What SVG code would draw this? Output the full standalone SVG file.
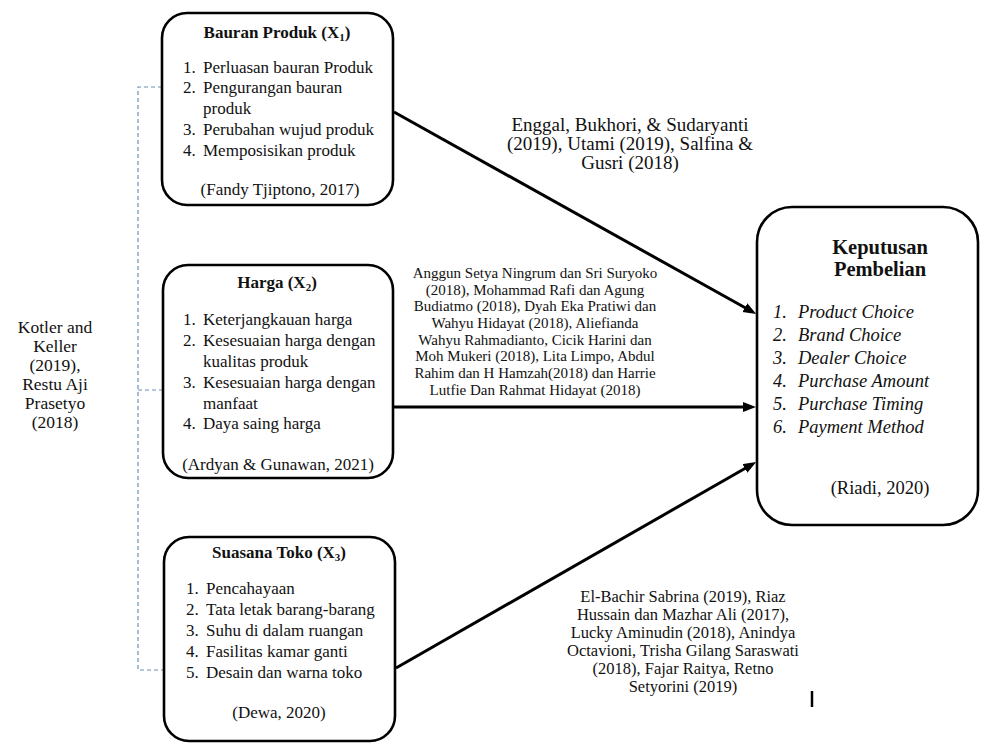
<svg xmlns="http://www.w3.org/2000/svg" width="992" height="747" viewBox="0 0 992 747">
<defs>
<style>
text{font-family:"Liberation Serif","Times New Roman",serif;fill:#111}
.box{fill:#fff;stroke:#000;stroke-width:2.6}
.t{font-size:17px;font-weight:bold;text-anchor:middle}
.i{font-size:17px}
.c{font-size:17px;text-anchor:middle}
.kt{font-size:20.5px;font-weight:bold;text-anchor:middle}
.ki{font-size:18.5px;font-style:italic}
.kc{font-size:18.5px;text-anchor:middle}
.lbl1{font-size:19px;text-anchor:middle}
.lbl2{font-size:15px;text-anchor:middle}
.lbl3{font-size:16.5px;text-anchor:middle}
.left{font-size:17.5px;text-anchor:middle}
.arrow{stroke:#000;stroke-width:3;fill:none;marker-end:url(#ah)}
.dash{stroke:#6d8fb8;stroke-width:1.2;stroke-dasharray:4 3;fill:none}
.sub{font-size:11px}
</style>
<marker id="ah" markerUnits="userSpaceOnUse" markerWidth="14" markerHeight="11" refX="7" refY="5" orient="auto">
<path d="M0,0 L13,5 L0,10 z" fill="#000"/>
</marker>
</defs>
<rect width="992" height="747" fill="#fff"/>

<g id="connectors">
<path class="dash" d="M162,87 H138 V670 H163 M138,390 H163"/>
<line class="arrow" x1="394" y1="112" x2="751" y2="311"/>
<line class="arrow" x1="393" y1="407" x2="750" y2="407"/>
<line class="arrow" x1="396" y1="668" x2="751" y2="465"/>
</g>

<g id="label-left">
<text class="left" x="55" y="333">Kotler and</text>
<text class="left" x="55" y="352">Keller</text>
<text class="left" x="55" y="371">(2019),</text>
<text class="left" x="55" y="390">Restu Aji</text>
<text class="left" x="55" y="409">Prasetyo</text>
<text class="left" x="55" y="428">(2018)</text>
</g>

<g id="bauran-produk">
<rect class="box" x="162" y="13" width="231" height="192" rx="25"/>
<text class="t" x="277" y="38">Bauran Produk (X<tspan class="sub" dy="3">1</tspan><tspan dy="-3">)</tspan></text>
<text class="i" x="183" y="73">1.</text><text class="i" x="203" y="73">Perluasan bauran Produk</text>
<text class="i" x="183" y="93">2.</text><text class="i" x="203" y="93">Pengurangan bauran</text>
<text class="i" x="203" y="114">produk</text>
<text class="i" x="183" y="135">3.</text><text class="i" x="203" y="135">Perubahan wujud produk</text>
<text class="i" x="183" y="156">4.</text><text class="i" x="203" y="156">Memposisikan produk</text>
<text class="c" x="280" y="195">(Fandy Tjiptono, 2017)</text>
</g>

<g id="harga">
<rect class="box" x="163" y="265" width="230" height="213" rx="25"/>
<text class="t" x="277" y="288">Harga (X<tspan class="sub" dy="3">2</tspan><tspan dy="-3">)</tspan></text>
<text class="i" x="183" y="325">1.</text><text class="i" x="203" y="325">Keterjangkauan harga</text>
<text class="i" x="183" y="346">2.</text><text class="i" x="203" y="346">Kesesuaian harga dengan</text>
<text class="i" x="203" y="367">kualitas produk</text>
<text class="i" x="183" y="388">3.</text><text class="i" x="203" y="388">Kesesuaian harga dengan</text>
<text class="i" x="203" y="409">manfaat</text>
<text class="i" x="183" y="429">4.</text><text class="i" x="203" y="429">Daya saing harga</text>
<text class="c" x="278" y="470">(Ardyan &amp; Gunawan, 2021)</text>
</g>

<g id="suasana-toko">
<rect class="box" x="164" y="537" width="231" height="204" rx="25"/>
<text class="t" x="279" y="558">Suasana Toko (X<tspan class="sub" dy="3">3</tspan><tspan dy="-3">)</tspan></text>
<text class="i" x="186" y="594">1.</text><text class="i" x="206" y="594">Pencahayaan</text>
<text class="i" x="186" y="615">2.</text><text class="i" x="206" y="615">Tata letak barang-barang</text>
<text class="i" x="186" y="636">3.</text><text class="i" x="206" y="636">Suhu di dalam ruangan</text>
<text class="i" x="186" y="657">4.</text><text class="i" x="206" y="657">Fasilitas kamar ganti</text>
<text class="i" x="186" y="678">5.</text><text class="i" x="206" y="678">Desain dan warna toko</text>
<text class="c" x="279" y="718">(Dewa, 2020)</text>
</g>

<g id="keputusan-pembelian">
<rect class="box" x="757" y="207" width="221" height="318" rx="35"/>
<text class="kt" x="880" y="254">Keputusan</text>
<text class="kt" x="880" y="276">Pembelian</text>
<text class="ki" x="773" y="318">1.</text><text class="ki" x="798" y="318">Product Choice</text>
<text class="ki" x="773" y="341">2.</text><text class="ki" x="798" y="341">Brand Choice</text>
<text class="ki" x="773" y="364">3.</text><text class="ki" x="798" y="364">Dealer Choice</text>
<text class="ki" x="773" y="387">4.</text><text class="ki" x="798" y="387">Purchase Amount</text>
<text class="ki" x="773" y="410">5.</text><text class="ki" x="798" y="410">Purchase Timing</text>
<text class="ki" x="773" y="433">6.</text><text class="ki" x="798" y="433">Payment Method</text>
<text class="kc" x="880" y="494">(Riadi, 2020)</text>
</g>

<g id="label-x1">
<text class="lbl1" x="630" y="131">Enggal, Bukhori, &amp; Sudaryanti</text>
<text class="lbl1" x="630" y="150">(2019), Utami (2019), Salfina &amp;</text>
<text class="lbl1" x="630" y="169">Gusri (2018)</text>
</g>

<g id="label-x2">
<text class="lbl2" x="535" y="278">Anggun Setya Ningrum  dan Sri Suryoko</text>
<text class="lbl2" x="535" y="295">(2018), Mohammad Rafi dan Agung</text>
<text class="lbl2" x="535" y="311">Budiatmo (2018), Dyah Eka Pratiwi dan</text>
<text class="lbl2" x="535" y="328">Wahyu Hidayat (2018), Aliefianda</text>
<text class="lbl2" x="535" y="345">Wahyu Rahmadianto, Cicik Harini dan</text>
<text class="lbl2" x="535" y="361">Moh Mukeri (2018), Lita Limpo, Abdul</text>
<text class="lbl2" x="535" y="378">Rahim dan H Hamzah(2018) dan Harrie</text>
<text class="lbl2" x="535" y="395">Lutfie Dan Rahmat Hidayat (2018)</text>
</g>

<g id="label-x3">
<text class="lbl3" x="683" y="602">El-Bachir Sabrina (2019), Riaz</text>
<text class="lbl3" x="683" y="620">Hussain dan Mazhar Ali (2017),</text>
<text class="lbl3" x="683" y="638">Lucky Aminudin (2018), Anindya</text>
<text class="lbl3" x="683" y="656">Octavioni, Trisha Gilang Saraswati</text>
<text class="lbl3" x="683" y="674">(2018), Fajar Raitya, Retno</text>
<text class="lbl3" x="683" y="692">Setyorini (2019)</text>
</g>

<line x1="812" y1="691" x2="812" y2="707" stroke="#000" stroke-width="2.5"/>
</svg>
